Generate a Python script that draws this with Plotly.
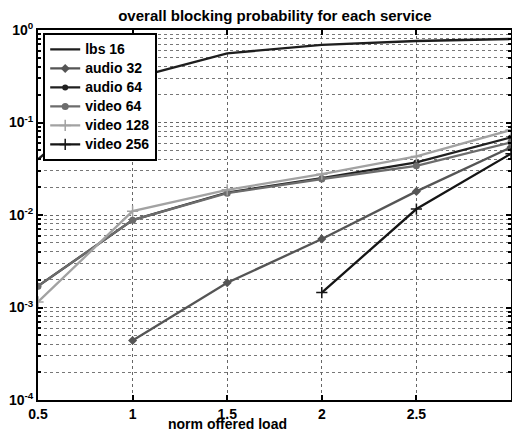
import plotly.graph_objects as go

x = [0.5, 1, 1.5, 2, 2.5, 3]
lbs16 = [0.040, 0.30, 0.56, 0.69, 0.76, 0.80]
audio32 = [None, 4.4e-4, 1.85e-3, 5.5e-3, 0.018, 0.054]
audio64 = [1.7e-3, 8.8e-3, 0.0175, 0.025, 0.037, 0.069]
video64 = [1.7e-3, 8.8e-3, 0.0172, 0.0245, 0.034, 0.061]
video128 = [1.15e-3, 0.011, 0.0187, 0.0276, 0.043, 0.083]
video256 = [None, None, None, 1.45e-3, 0.0116, 0.046]

ytickvals = [1e-4, 1e-3, 1e-2, 1e-1, 1]
yticktext = ["10<sup>-4</sup>", "10<sup>-3</sup>", "10<sup>-2</sup>", "10<sup>-1</sup>", "10<sup>0</sup>"]
xtickvals = [0.5, 1, 1.5, 2, 2.5, 3]
xticktext = ["0.5", "1", "1.5", "2", "2.5", "3"]

FONT = "Liberation Sans, Arial, sans-serif"

fig = go.Figure()
series = [
    ("lbs 16", lbs16, "#1e1e1e", "circle", 0, None),
    ("audio 32", audio32, "#555555", "diamond", 7, None),
    ("audio 64", audio64, "#202020", "circle", 6, None),
    ("video 64", video64, "#6c6c6c", "circle", 7, None),
    ("video 128", video128, "#a2a2a2", "cross-thin-open", 8, 1.5),
    ("video 256", video256, "#151515", "cross-thin-open", 8, 1.5),
]
for name, y, col, sym, size, mlw in series:
    mode = "lines" if size == 0 else "lines+markers"
    marker = dict(symbol=sym, size=size, color=col)
    if mlw:
        marker["line"] = dict(color=col, width=mlw)
    fig.add_trace(go.Scatter(x=x, y=y, name="<span style='font-size:14px'>" + name + "</span>",
                             mode=mode, line=dict(color=col, width=2.3),
                             marker=marker, connectgaps=False))

grid = dict(showgrid=True, gridcolor="#666666", griddash="dot", gridwidth=1)
fig.update_layout(
    width=512, height=430,
    margin=dict(l=38, r=1, t=30, b=30),
    paper_bgcolor="white", plot_bgcolor="white",
    font=dict(family=FONT, size=13, color="black"),
    title=dict(text="<b>overall blocking probability for each service</b>",
               x=0.537, xanchor="center", y=0.963, yanchor="middle",
               font=dict(size=15, family=FONT, color="black")),
    legend=dict(x=0.011, y=0.992, xanchor="left", yanchor="top",
                bgcolor="white", bordercolor="black", borderwidth=2,
                font=dict(size=12, family=FONT, color="black", weight="bold"),
                tracegroupgap=0, itemwidth=30),
    showlegend=True,
    annotations=[dict(text="<b>norm offered load</b>", xref="paper", yref="paper",
                      x=0.40, y=-0.065, xanchor="center", yanchor="middle",
                      showarrow=False, font=dict(size=14, family=FONT, color="black"))],
)
fig.update_xaxes(range=[0.5, 3], tickvals=xtickvals, ticktext=xticktext,
                 ticks="inside", ticklen=5, tickwidth=2, tickcolor="black",
                 showline=True, linecolor="black", linewidth=2, mirror="ticks",
                 tickfont=dict(size=14, family=FONT, weight="bold"),
                 ticklabelstandoff=0, automargin=False,
                 zeroline=False, **grid)
fig.update_yaxes(type="log", range=[-4, 0], tickvals=ytickvals, ticktext=yticktext,
                 ticks="inside", ticklen=5, tickwidth=2, tickcolor="black",
                 showline=True, linecolor="black", linewidth=2, mirror="ticks",
                 tickfont=dict(size=14, family=FONT, weight="bold"),
                 automargin=False,
                 minor=dict(dtick="D1", ticks="inside", ticklen=3, tickcolor="black",
                            showgrid=True, gridcolor="#777777", griddash="dot", gridwidth=1),
                 zeroline=False, **grid)

fig.write_html("out.html", config={"displayModeBar": False},
               post_script="document.body.style.margin='0';document.body.style.overflow='hidden';")
